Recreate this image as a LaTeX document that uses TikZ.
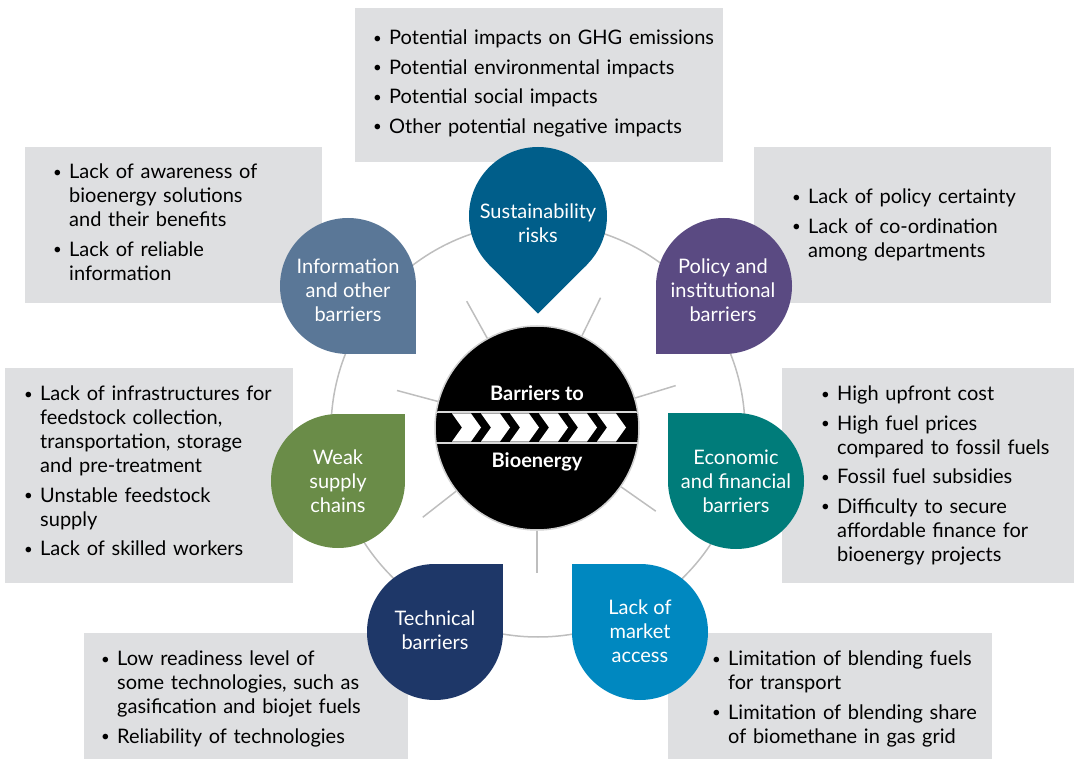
\documentclass[tikz,border=0pt]{standalone}
\usepackage{fontspec}
\setmainfont{Lato}
\usetikzlibrary{calc}
\definecolor{boxgray}{RGB}{222,223,225}
\definecolor{ringgray}{RGB}{190,190,190}
\definecolor{csust}{RGB}{0,94,138}
\definecolor{cpol}{RGB}{90,74,130}
\definecolor{cecon}{RGB}{0,124,122}
\definecolor{cmark}{RGB}{0,136,192}
\definecolor{ctech}{RGB}{30,55,104}
\definecolor{cweak}{RGB}{106,140,72}
\definecolor{cinfo}{RGB}{90,119,151}
\newcommand\bul[1]{\par\noindent\makebox[16pt][l]{\raisebox{1.5pt}{\scalebox{0.75}{\textbullet}}}\parbox[t]{340pt}{\raggedright #1\strut}\par\prevdepth=\dp\strutbox}
\tikzset{
  graybox/.style={fill=boxgray, draw=none, inner sep=0, outer sep=0, anchor=north west},
  listtext/.style={anchor=north west, inner sep=0, text width=360pt,
    font=\fontsize{20}{24}\selectfont, execute at begin node={\setlength\parskip{5.5pt}}},
  droptext/.style={text=white, align=center, font=\fontsize{20}{24}\selectfont, inner sep=0},
  spoke/.style={draw=ringgray, line width=1.5pt},
}
\begin{document}
\begin{tikzpicture}[x=1pt,y=-1pt]
\useasboundingbox (0,0) rectangle (1077,759);
% gray boxes
\node[graybox, minimum width=368pt, minimum height=154pt] (bA) at (355,8) {};
\node[graybox, minimum width=297pt, minimum height=156pt] (bB) at (25,147) {};
\node[graybox, minimum width=297pt, minimum height=156pt] (bC) at (754,147) {};
\node[graybox, minimum width=288pt, minimum height=215pt] (bD) at (5,368) {};
\node[graybox, minimum width=292pt, minimum height=215pt] (bE) at (782,368) {};
\node[graybox, minimum width=324pt, minimum height=126pt] (bF) at (84,633) {};
\node[graybox, minimum width=324pt, minimum height=126pt] (bG) at (668,633) {};
% ring
\draw[ringgray, line width=1.5pt] (538,430) circle (207pt);
% center circle
\node[circle, fill=black, draw=ringgray!70, line width=1.5pt, minimum size=204pt, inner sep=0] (c) at (537,428) {};
\foreach \a/\n in {119/1, 64/2, 17/3, -35/4, -90/5, -142/6, 165/7}{
  \coordinate (e\n) at ($(c.center)+(\a:145pt)$);
  \draw[spoke] (c.\a) -- (e\n);
}
\begin{scope}
\clip (537,428) circle (101pt);
\draw[white!85!black, line width=1.2pt] (430,412) -- (645,412) (430,443) -- (645,443);
\foreach \i in {0,...,5}{
  \fill[white] (452+29*\i,413.5) -- ++(19,0) -- ++(10,14) -- ++(-10,14) -- ++(-19,0) -- ++(10,-14) -- cycle;
}
\end{scope}
\node[text=white, font=\fontsize{20}{24}\selectfont\bfseries, inner sep=0] (t1) at (537,393) {Barriers to};
\node[text=white, font=\fontsize{20}{24}\selectfont\bfseries, inner sep=0] (t2) at (537,462) {Bioenergy};
% drops
\fill[csust] (538,216) circle (69pt);
\fill[csust] (538,216) -- (489.2,264.8) -- (538,313.6) -- (586.8,264.8) -- cycle;
\node[droptext] (dS) at (538,223) {Sustainability\\risks};
\fill[cpol] (724,286) circle (68pt);
\fill[cpol] (656,286) rectangle (724,354);
\node[droptext] (dP) at (723,290) {Policy and\\institutional\\barriers};
\fill[cinfo] (348,286) circle (68pt);
\fill[cinfo] (348,286) rectangle (416,354);
\node[droptext] (dI) at (348,290) {Information\\and other\\barriers};
\fill[cecon] (736,481) circle (68pt);
\fill[cecon] (668,413) rectangle (736,481);
\node[droptext] (dE) at (736,481) {Economic\\and financial\\barriers};
\fill[cweak] (338,481) circle (67pt);
\fill[cweak] (338,414) rectangle (405,481);
\node[droptext] (dW) at (338,481) {Weak\\supply\\chains};
\fill[cmark] (640,632) circle (68pt);
\fill[cmark] (572,564) rectangle (640,632);
\node[droptext] (dM) at (640,631) {Lack of\\market\\access};
\fill[ctech] (435,632) circle (68pt);
\fill[ctech] (435,564) rectangle (503,632);
\node[droptext] (dT) at (435,630) {Technical\\barriers};
% lists
\node[listtext] (lA) at (373,15) {\bul{Potential impacts on GHG emissions}\bul{Potential environmental impacts}\bul{Potential social impacts}\bul{Other potential negative impacts}};
\node[listtext] (lB) at (53,149) {\bul{Lack of awareness of\\bioenergy solutions\\and their benefits}\bul{Lack of reliable\\information}};
\node[listtext] (lC) at (792,174) {\bul{Lack of policy certainty}\bul{Lack of co-ordination\\among departments}};
\node[listtext] (lD) at (24,371) {\bul{Lack of infrastructures for\\feedstock collection,\\transportation, storage\\and pre-treatment}\bul{Unstable feedstock\\supply}\bul{Lack of skilled workers}};
\node[listtext] (lE) at (821,371) {\bul{High upfront cost}\bul{High fuel prices\\compared to fossil fuels}\bul{Fossil fuel subsidies}\bul{Difficulty to secure\\affordable finance for\\bioenergy projects}};
\node[listtext] (lF) at (101,636) {\bul{Low readiness level of\\some technologies, such as\\gasification and biojet fuels}\bul{Reliability of technologies}};
\node[listtext] (lG) at (712,636) {\bul{Limitation of blending fuels\\for transport}\bul{Limitation of blending share\\of biomethane in gas grid}};
\end{tikzpicture}
\end{document}
